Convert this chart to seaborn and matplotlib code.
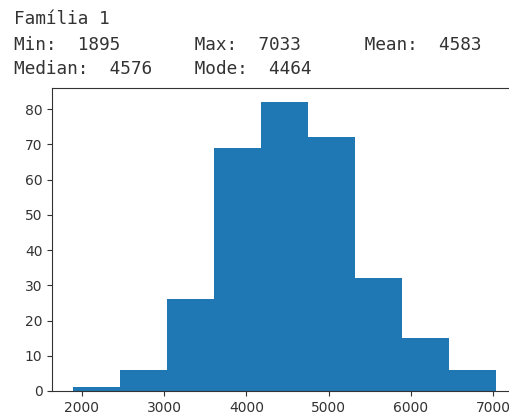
import numpy as np
import pandas as pd
import matplotlib
matplotlib.use("Agg")
import matplotlib.pyplot as plt
import seaborn as sns

# summary printed above the plot
title = "Família 1"
stat_min, stat_max, stat_mean = 1895, 7033, 4583
stat_median, stat_mode = 4576, 4464

# histogram counts (9 equal bins from min to max)
counts = [1, 6, 26, 69, 82, 72, 32, 15, 6]

edges = np.linspace(stat_min, stat_max, len(counts) + 1)
centers = (edges[:-1] + edges[1:]) / 2
df = pd.DataFrame({"value": centers, "count": counts})

W, H = 509, 416
fig = plt.figure(figsize=(W / 100, H / 100), dpi=100)

# axes runs a bit past the right edge, like the cropped notebook output
ax = fig.add_axes([52.2 / W, 25 / H, (516.8 - 52.2) / W, 303.5 / H])
sns.histplot(data=df, x="value", weights="count", bins=edges.tolist(), ax=ax,
             color="#1f77b4", alpha=1, linewidth=0, edgecolor="none")
pad = 0.05 * (stat_max - stat_min)
ax.set_xlim(stat_min - pad, stat_max + pad)
ax.set_ylim(0, max(counts) * 1.05)
ax.spines["right"].set_visible(False)
ax.set_xlabel("")
ax.set_ylabel("")
ax.set_yticks(range(0, 81, 10))
ax.set_xticks(range(2000, 7001, 1000))
ax.tick_params(labelcolor="#333333", color="#333333")
for s in ax.spines.values():
    s.set_color("#333333")

lines = [
    title,
    f"Min:  {stat_min}       Max:  {stat_max}      Mean:  {stat_mean}",
    f"Median:  {stat_median}    Mode:  {stat_mode}",
]
for i, line in enumerate(lines):
    fig.text(14 / W, 1 - (24.5 + 25 * i) / H, line, family="DejaVu Sans Mono",
             fontsize=12.8, color="#333333", va="baseline", ha="left")

fig.savefig("out.png", dpi=100)
